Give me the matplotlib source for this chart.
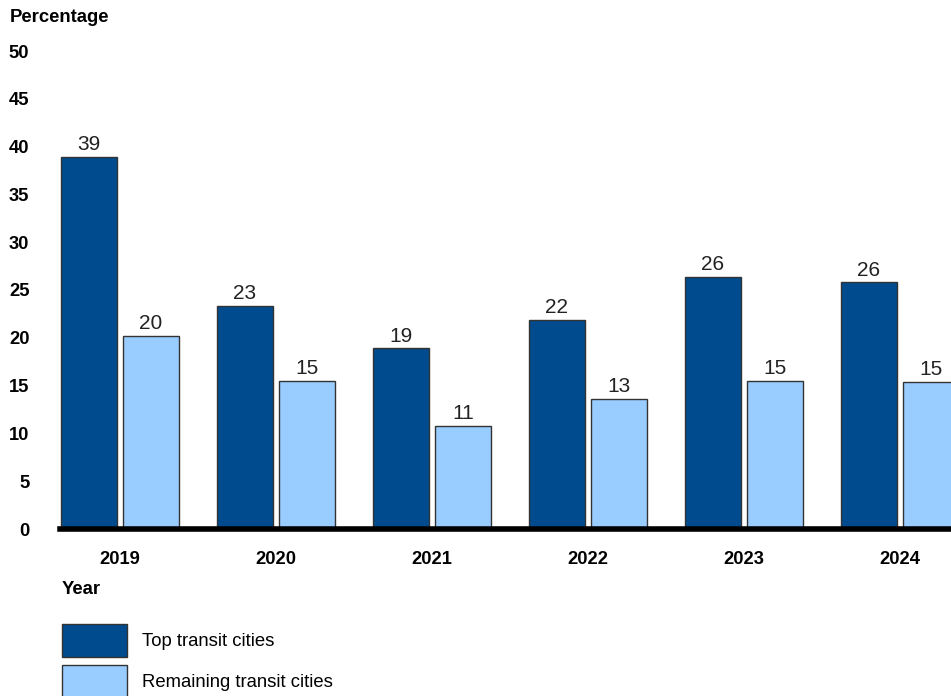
import matplotlib.pyplot as plt
import numpy as np

plt.rcParams['font.family'] = ['Liberation Sans', 'DejaVu Sans']

years = ['2019', '2020', '2021', '2022', '2023', '2024']
top_cities = [38.9, 23.3, 18.9, 21.9, 26.4, 25.8]
remaining_cities = [20.2, 15.5, 10.8, 13.6, 15.5, 15.4]
top_labels = ['39', '23', '19', '22', '26', '26']
remaining_labels = ['20', '15', '11', '13', '15', '15']

dark = '#004B8D'
light = '#99CCFF'
edge = '#333333'

fig = plt.figure(figsize=(9.51, 6.96), dpi=100)
ax = fig.add_axes([60 / 951, 1 - 529 / 696, 1 - 60 / 951, (529 - 51) / 696])

x = np.arange(len(years))
w = 0.359
off = 0.199
b1 = ax.bar(x - off, top_cities, w, color=dark, edgecolor=edge, linewidth=1, label='Top transit cities')
b2 = ax.bar(x + off, remaining_cities, w, color=light, edgecolor=edge, linewidth=1, label='Remaining transit cities')

for bars, labels in [(b1, top_labels), (b2, remaining_labels)]:
    for rect, lab in zip(bars, labels):
        ax.annotate(lab, (rect.get_x() + rect.get_width() / 2, rect.get_height()),
                    xytext=(0, 2), textcoords='offset points',
                    ha='center', va='bottom', fontsize=15, color='#222222')

ax.set_xlim(-0.385, 5.327)
ax.set_ylim(0, 50)
ax.set_yticks(np.arange(0, 51, 5))
ax.set_xticks(x)
ax.set_xticklabels(years)
for s in ['top', 'right', 'left']:
    ax.spines[s].set_visible(False)
ax.spines['bottom'].set_linewidth(4)
ax.spines['bottom'].set_zorder(5)
ax.tick_params(axis='y', length=0, pad=22, labelsize=13.2)
ax.tick_params(axis='x', length=0, pad=16, labelsize=13.2)
for t in ax.get_xticklabels() + ax.get_yticklabels():
    t.set_fontweight('bold')

fig.text(10 / 951, 1 - 9 / 696, 'Percentage', ha='left', va='top', fontsize=13.3, fontweight='bold')
fig.text(62 / 951, 1 - 590 / 696, 'Year', ha='left', va='center', fontsize=13.3, fontweight='bold')

fig.legend(handles=[b1, b2], loc='upper left', bbox_to_anchor=(62 / 951, 1 - 624 / 696),
           frameon=False, fontsize=13.3, borderpad=0, borderaxespad=0,
           handlelength=3.5, handleheight=2.36, handletextpad=0.85, labelspacing=0.42)

fig.savefig('out.png', dpi=100)
